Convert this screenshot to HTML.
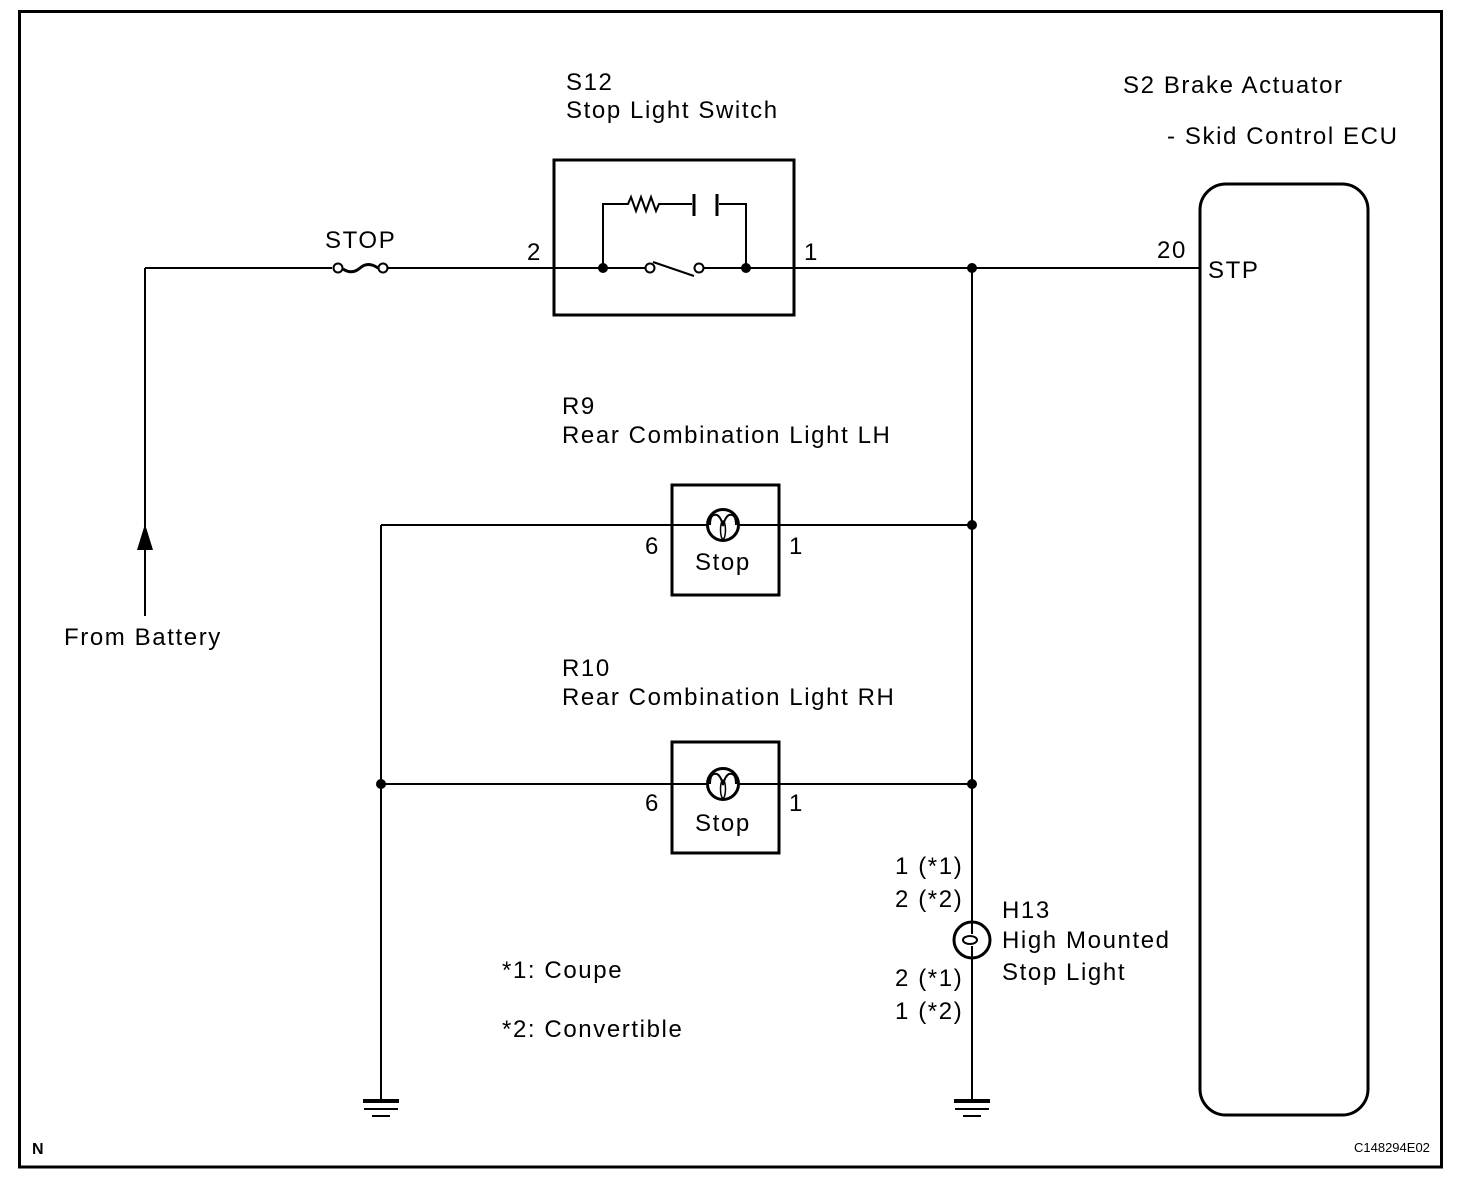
<!DOCTYPE html>
<html><head><meta charset="utf-8"><style>
html,body{margin:0;padding:0;background:#fff}
svg{display:block}
text{font-family:"Liberation Sans",Arial,sans-serif;font-size:24px;fill:#000;letter-spacing:1.6px}
</style></head><body>
<svg width="1472" height="1178" viewBox="0 0 1472 1178" xmlns="http://www.w3.org/2000/svg">
<g fill="none" stroke="#000">
<path d="M19.5 178 V11.5 H1441.5 V1167 H19.5 V178" stroke-width="3"/>
<rect x="1200" y="184" width="168" height="931" rx="26" stroke-width="3"/>
<g stroke-width="2">
<line x1="145" y1="268" x2="145" y2="616"/>
<line x1="145" y1="268" x2="332" y2="268"/>
<line x1="388" y1="268" x2="645" y2="268"/>
<line x1="704" y1="268" x2="1200" y2="268"/>
<line x1="972" y1="268" x2="972" y2="922"/>
<line x1="972" y1="958" x2="972" y2="1100"/>
<line x1="381" y1="525" x2="381" y2="1100"/>
<line x1="381" y1="525" x2="707" y2="525"/>
<line x1="739" y1="525" x2="972" y2="525"/>
<line x1="381" y1="784" x2="707" y2="784"/>
<line x1="739" y1="784" x2="972" y2="784"/>
<polyline points="603,268 603,204 628,204 631,197 636,211 641,197 646,211 651,197 656,211 659,204 692,204"/>
<polyline points="719,204 746,204 746,268"/>
<line x1="653" y1="262" x2="694" y2="276"/>
</g>
<line x1="694" y1="194" x2="694" y2="216" stroke-width="3"/>
<line x1="717" y1="194" x2="717" y2="216" stroke-width="3"/>
<circle cx="338" cy="268" r="4.5" stroke-width="2"/>
<circle cx="383" cy="268" r="4.5" stroke-width="2"/>
<path d="M343 269 Q352 275 360 268 Q368 261 378 268" stroke-width="3"/>
<rect x="554" y="160" width="240" height="155" stroke-width="3"/>
<circle cx="650" cy="268" r="4.5" stroke-width="2"/>
<circle cx="699" cy="268" r="4.5" stroke-width="2"/>
<rect x="672" y="485" width="107" height="110" stroke-width="3"/>
<rect x="672" y="742" width="107" height="111" stroke-width="3"/>
<circle cx="723" cy="525" r="15.5" stroke-width="3"/>
<path d="M710 525 Q710 513 717 515 Q721 517 723 526 Q725 517 729 515 Q736 513 736 525" stroke-width="2"/>
<ellipse cx="723" cy="530" rx="2.5" ry="9" stroke-width="1.5"/>
<circle cx="723" cy="784" r="15.5" stroke-width="3"/>
<path d="M710 784 Q710 772 717 774 Q721 776 723 785 Q725 776 729 774 Q736 772 736 784" stroke-width="2"/>
<ellipse cx="723" cy="789" rx="2.5" ry="9" stroke-width="1.5"/>
<circle cx="972" cy="940" r="18" stroke-width="3"/>
<path d="M972 922 V934 M972 946 V958" stroke-width="2"/>
<ellipse cx="970" cy="940" rx="7" ry="4" stroke-width="2"/>
<g stroke-width="2"><line x1="364" y1="1109" x2="398" y2="1109"/><line x1="372" y1="1116" x2="390" y2="1116"/>
<line x1="955" y1="1109" x2="989" y2="1109"/><line x1="963" y1="1116" x2="981" y2="1116"/></g>
<g stroke-width="4"><line x1="363" y1="1101" x2="399" y2="1101"/><line x1="954" y1="1101" x2="990" y2="1101"/></g>
</g>
<g fill="#000">
<circle cx="603" cy="268" r="5"/><circle cx="746" cy="268" r="5"/>
<circle cx="972" cy="268" r="5"/><circle cx="972" cy="525" r="5"/>
<circle cx="972" cy="784" r="5"/><circle cx="381" cy="784" r="5"/>
<polygon points="145,524 137,550 153,550"/>
</g>
<text x="566" y="90">S12</text>
<text x="566" y="118">Stop Light Switch</text>
<text x="325" y="248">STOP</text>
<text x="527" y="260">2</text>
<text x="804" y="260">1</text>
<text x="1123" y="93">S2  Brake Actuator</text>
<text x="1167" y="144">- Skid Control ECU</text>
<text x="1157" y="258">20</text>
<text x="1208" y="278">STP</text>
<text x="562" y="414">R9</text>
<text x="562" y="443">Rear Combination Light LH</text>
<text x="645" y="554">6</text>
<text x="789" y="554">1</text>
<text x="695" y="570">Stop</text>
<text x="562" y="676">R10</text>
<text x="562" y="705">Rear Combination Light RH</text>
<text x="645" y="811">6</text>
<text x="789" y="811">1</text>
<text x="695" y="831">Stop</text>
<text x="64" y="645">From Battery</text>
<text x="895" y="874">1 (*1)</text>
<text x="895" y="907">2 (*2)</text>
<text x="1002" y="918">H13</text>
<text x="1002" y="948">High Mounted</text>
<text x="1002" y="980">Stop Light</text>
<text x="895" y="986">2 (*1)</text>
<text x="895" y="1019">1 (*2)</text>
<text x="502" y="978">*1: Coupe</text>
<text x="502" y="1037">*2: Convertible</text>
<text x="32" y="1154" style="font-size:16px;font-weight:bold;letter-spacing:0">N</text>
<text x="1354" y="1152" style="font-size:13px;letter-spacing:0">C148294E02</text>
</svg>
</body></html>
